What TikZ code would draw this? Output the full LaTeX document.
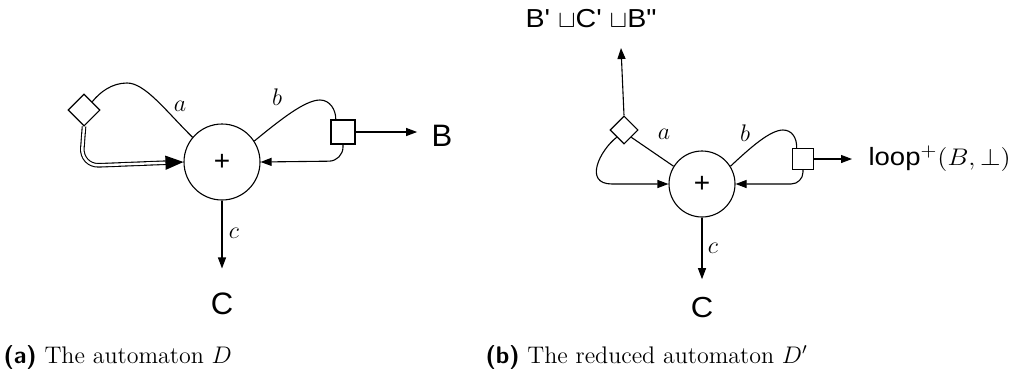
\documentclass[tikz,border=0pt]{standalone}
\usepackage{graphicx}
\usepackage{fontspec}
\newfontfamily\diagfont{Liberation Sans}
\usetikzlibrary{arrows.meta,shapes.geometric}

% wide sans labels
\newcommand{\widelbl}[2]{\scalebox{#1}[1]{#2}}

\tikzset{
  sumnode/.style={draw, circle, inner sep=0pt, font=\diagfont\fontsize{14}{14}\selectfont},
  choice/.style={draw, diamond, inner sep=0pt, fill=white},
  split/.style={draw, rectangle, inner sep=0pt, fill=white},
  outlbl/.style={inner sep=0pt, font=\diagfont},
  edgelbl/.style={inner sep=1pt, font=\fontsize{13}{13}\selectfont},
  tip/.style={-{Triangle[length=5.5pt,width=4pt]}},
  caption/.style={anchor=base west, inner sep=0pt, font=\fontsize{12}{14}\selectfont}
}

\begin{document}
\begin{tikzpicture}[x=0.5pt, y=-0.5pt, line width=0.55pt]
  \useasboundingbox (0,0) rectangle (1020,376);

  % automaton D
  \node[sumnode, minimum size=38pt] (plusA) at (222,162) {+};
  \node[choice, minimum size=16pt] (dmdA) at (84,110) {};
  \node[split, minimum size=12pt] (boxA) at (343,132) {};
  \node[outlbl, font=\diagfont\fontsize{15.5}{15.5}\selectfont] (outB) at (442,136) {B};
  \node[outlbl, font=\diagfont\fontsize{15.5}{15.5}\selectfont] (outC) at (222,304) {C};

  \draw (plusA.140) .. controls (165,110) and (145,83) .. (127,83)
                    .. controls (112,83) and (100,92) .. (dmdA.north east);
  \draw[double, double distance=1.2pt, -{Triangle[length=9pt,width=7pt]}, rounded corners=9pt]
    (dmdA.south) -- (81,166) -- (plusA.west);
  \draw (plusA.33) .. controls (280,120) and (305,100) .. (320,100)
                   .. controls (330,100) and (336,110) .. (boxA.120);
  \draw[tip, rounded corners=7pt] (boxA.south) -- (343,161) -- (plusA.east);
  \draw[tip, shorten >=7pt] (boxA.east) -- (boxA.east -| outB.west);
  \draw[tip, shorten >=12pt] (plusA.south) -- (plusA.south |- outC.north);

  \node[edgelbl] (lblA) at (180,106) {$a$};
  \node[edgelbl] (lblB) at (277,97) {$b$};
  \node[edgelbl] (lblC) at (234,233) {$c$};

  % reduced automaton D'
  \node[sumnode, minimum size=33pt] (plusB) at (702,184) {+};
  \node[choice, minimum size=14pt] (dmdB) at (624,130) {};
  \node[split, minimum size=10.5pt] (boxB) at (803,159) {};
  \node[outlbl, font=\diagfont\fontsize{13}{13}\selectfont] (outU) at (591,19)
    {\widelbl{1.1}{B\symbol{39} $\sqcup$C\symbol{39} $\sqcup$B\symbol{34}}};
  \node[outlbl, anchor=west, font=\diagfont\fontsize{12.5}{12.5}\selectfont] (outL) at (868,159)
    {\widelbl{1.1}{loop$^+(B,\bot)$}};
  \node[outlbl, font=\diagfont\fontsize{14.5}{14.5}\selectfont] (outC2) at (702,308) {\widelbl{1.07}{C}};
  \coordinate (upEnd) at (621,48);

  \draw[tip] (dmdB.north) -- (upEnd);
  \draw (dmdB.south east) -- (plusB.148);
  \draw[tip] (dmdB.south west) .. controls (600,150) and (583,184) .. (612,184) -- (plusB.west);
  \draw (plusB.32) .. controls (750,148) and (770,130) .. (783,130)
                   .. controls (792,130) and (797,138) .. (boxB.120);
  \draw[tip, rounded corners=6pt] (boxB.south) -- (803,184) -- (plusB.east);
  \draw[tip, shorten >=8pt] (boxB.east) -- (outL.west);
  \draw[tip, shorten >=9pt] (plusB.south) -- (plusB.south |- outC2.north);

  \node[edgelbl] (lblA2) at (664,134) {$a$};
  \node[edgelbl] (lblB2) at (745,133) {$b$};
  \node[edgelbl] (lblC2) at (713,248) {$c$};

  % sub-captions
  \node[caption] (capA) at (3,363) {{\sffamily\bfseries (a)} The automaton $D$};
  \node[caption] (capB) at (485,363) {{\sffamily\bfseries (b)} The reduced automaton $D'$};
\end{tikzpicture}
\end{document}
